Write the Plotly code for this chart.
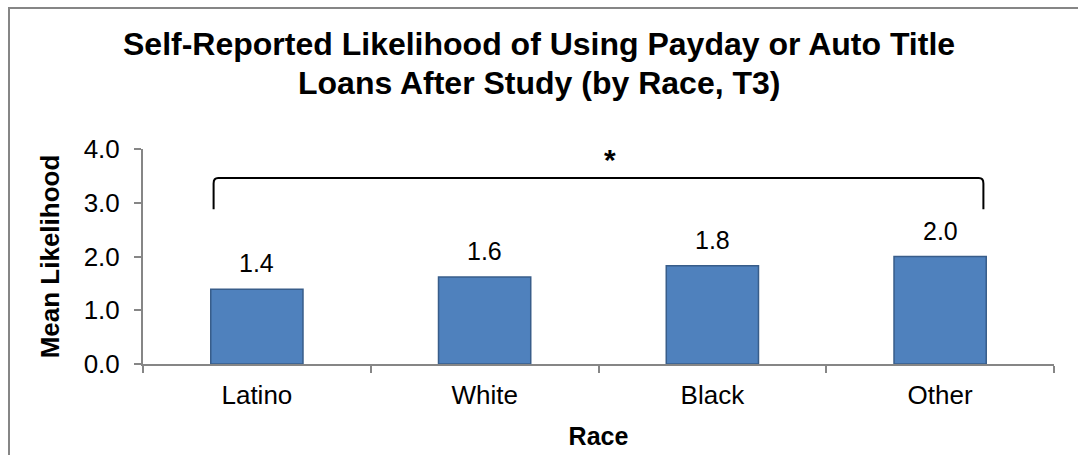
import plotly.graph_objects as go

categories = ["Latino", "White", "Black", "Other"]
values = [1.39, 1.62, 1.83, 2.0]
value_labels = ["1.4", "1.6", "1.8", "2.0"]
y_ticks = [0, 1, 2, 3, 4]
y_tick_labels = ["0.0", "1.0", "2.0", "3.0", "4.0"]
title_lines = ["Self-Reported Likelihood of Using Payday or Auto Title",
               "Loans After Study (by Race, T3)"]
sig_marker = "*"

W, H = 1078, 455
ML, MR, MT, MB = 143, 24, 149, 91
FONT = "Liberation Sans, Arial, sans-serif"
GRAY = "#868686"
pw = W - ML - MR
ph = H - MT - MB

def px_x(p):
    return (p - ML) / pw

def px_y(p):
    return (H - MB - p) / ph

fig = go.Figure()
fig.add_trace(go.Bar(
    x=categories, y=values,
    marker=dict(color="#4F81BD", line=dict(color="#385D8A", width=1.5)),
    width=0.405,
    hoverinfo="skip",
))

# data labels
for c, v, t in zip(categories, values, value_labels):
    fig.add_annotation(x=c, y=v, text=t, showarrow=False, xref="x", yref="y",
                       yanchor="bottom", yshift=10,
                       font=dict(family=FONT, size=25, color="#000000"))

# significance bracket
x0 = 0 - 0.19
x1 = (len(categories) - 1) + 0.19
yt, yb = 3.46, 2.88
dx, dy = 0.02, 0.1
path = (f"M {x0} {yb} L {x0} {yt-dy} Q {x0} {yt} {x0+dx} {yt} "
        f"L {x1-dx} {yt} Q {x1} {yt} {x1} {yt-dy} L {x1} {yb}")
fig.add_shape(type="path", path=path, xref="x", yref="y",
              line=dict(color="#000000", width=2))
fig.add_annotation(x=(x0 + x1) / 2 + 0.05, y=yt, text=f"<b>{sig_marker}</b>", showarrow=False,
                   xref="x", yref="y", yanchor="bottom", yshift=0,
                   font=dict(family=FONT, size=30, color="#000000"))

# title (two lines, placed separately for line spacing)
for line, ymid in zip(title_lines, [44, 83]):
    fig.add_annotation(x=px_x(W / 2), y=px_y(ymid), xref="paper", yref="paper",
                       xanchor="center", yanchor="middle", showarrow=False,
                       text=f"<b>{line}</b>",
                       font=dict(family=FONT, size=32, color="#000000"))

# outer chart border
fig.add_shape(type="rect", xref="paper", yref="paper",
              x0=px_x(9), x1=px_x(W + 5), y0=px_y(H + 5), y1=px_y(8),
              line=dict(color=GRAY, width=2), fillcolor="rgba(0,0,0,0)", layer="above")

fig.update_layout(
    width=W, height=H,
    margin=dict(l=ML, r=MR, t=MT, b=MB, pad=0, autoexpand=False),
    paper_bgcolor="white", plot_bgcolor="white",
    showlegend=False,
    font=dict(family=FONT, color="#000000"),
    xaxis=dict(
        type="category", showgrid=False, showline=True, linecolor=GRAY, linewidth=2,
        ticks="outside", tickson="boundaries", ticklen=7, tickcolor=GRAY, tickwidth=2,
        tickfont=dict(family=FONT, size=26, color="#000000"), ticklabelstandoff=7,
        title=dict(text="<b>Race</b>", font=dict(family=FONT, size=25, color="#000000"), standoff=18),
        range=[-0.5, len(categories) - 0.5], fixedrange=True, automargin=False,
    ),
    yaxis=dict(
        range=[0, 4], tickvals=y_ticks, ticktext=y_tick_labels, showgrid=False, zeroline=False,
        showline=True, linecolor=GRAY, linewidth=2,
        ticks="outside", ticklen=7, tickcolor=GRAY, tickwidth=2,
        tickfont=dict(family=FONT, size=26, color="#000000"), ticklabelstandoff=9,
        title=dict(text="<b>Mean Likelihood</b>", font=dict(family=FONT, size=26, color="#000000"), standoff=17),
        fixedrange=True, automargin=False,
    ),
)

fig.write_html("out.html")
